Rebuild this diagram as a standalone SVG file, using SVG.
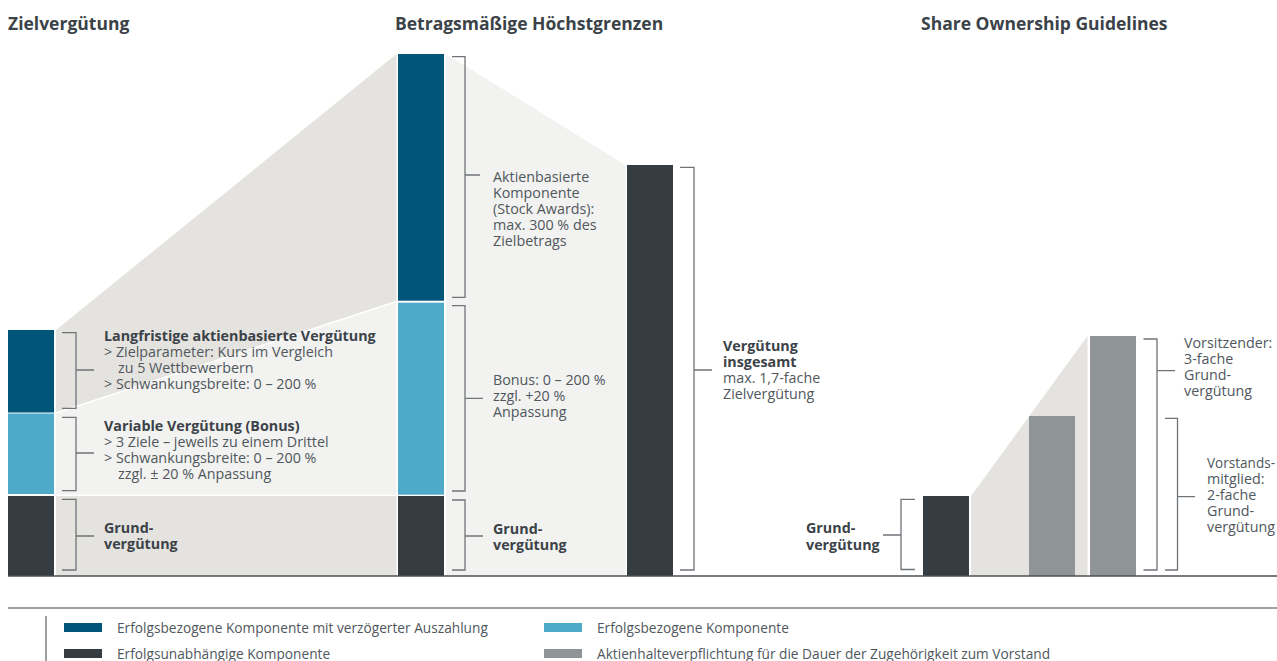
<svg xmlns="http://www.w3.org/2000/svg" width="1277" height="661" viewBox="0 0 1277 661">
<style>
  text { font-family: "Open Sans", "Noto Sans", sans-serif; fill: #50575d; font-size: 14.3px; }
  .t { font-size: 17.5px; font-weight: 700; fill: #3b4248; }
  .b { font-weight: 700; fill: #3b4248; }
  .br { fill: none; stroke: #6f7479; stroke-width: 1.3; }
  .lg { font-size: 13.7px; }
  .dblue { fill: #005578; }
  .lblue { fill: #4fa9c8; }
  .dark { fill: #353c42; }
  .grey { fill: #8f9496; }
  .bandD { fill: #e4e3df; }
  .bandL { fill: #f2f2f0; }
</style>

<!-- titles -->
<g id="titles">
  <text class="t" x="8" y="30">Zielvergütung</text>
  <text class="t" x="395" y="30">Betragsmäßige Höchstgrenzen</text>
  <text class="t" x="921" y="30">Share Ownership Guidelines</text>
</g>

<!-- connecting bands -->
<g id="connectors">
  <polygon class="bandD" points="56,330 396.5,54 396.5,301.5 56,413"/>
  <polygon class="bandL" points="56,413 396.5,301.5 396.5,494.5 56,494.5"/>
  <polygon class="bandD" points="56,496 396.5,496 396.5,576 56,576"/>
  <line x1="56" y1="413" x2="396.5" y2="301.5" stroke="#ffffff" stroke-width="1.5"/>
  <polygon class="bandL" points="446,54 625.5,165 625.5,576 446,576"/>
  <polygon class="bandD" points="971,496 1087.5,336 1087.5,576 971,576"/>
</g>

<!-- column 1: target remuneration -->
<g id="col-target">
  <rect class="dblue" x="8" y="330" width="46" height="82.5"/>
  <rect class="lblue" x="8" y="413.5" width="46" height="80.5"/>
  <rect class="dark" x="8" y="496" width="46" height="80"/>
</g>

<!-- column 2: caps -->
<g id="col-caps">
  <rect class="dblue" x="398" y="54" width="46" height="246.7"/>
  <rect class="lblue" x="398" y="302.7" width="46" height="192"/>
  <rect class="dark" x="398" y="496" width="46" height="80"/>
</g>

<g id="col-total">
  <rect class="dark" x="627" y="165" width="46" height="411"/>
</g>

<!-- column 3: share ownership -->
<g id="col-sog-base">
  <rect class="dark" x="923" y="496" width="46" height="80"/>
</g>
<g id="col-sog-member">
  <rect class="grey" x="1029" y="416" width="46" height="160"/>
</g>
<g id="col-sog-chair">
  <rect class="grey" x="1090" y="336" width="46" height="240"/>
</g>

<!-- baseline -->
<line x1="8" y1="576" x2="1277" y2="576" stroke="#4b5156" stroke-width="1.6"/>

<!-- brackets -->
<g id="brackets">
  <path class="br" d="M62,332.7 H76 V408.3 H62 M76,370 H94"/>
  <path class="br" d="M62,417.3 H76 V490.7 H62 M76,453 H94"/>
  <path class="br" d="M62,499.3 H76 V570 H62 M76,536 H94"/>
  <path class="br" d="M452,56.7 H465 V297.3 H452 M465,175 H480"/>
  <path class="br" d="M452,305.7 H465 V491 H452 M465,398.3 H483"/>
  <path class="br" d="M452,500 H465 V570 H452 M465,536 H483"/>
  <path class="br" d="M680,167.3 H694 V570 H680 M694,370 H712"/>
  <path class="br" d="M915,499.3 H901 V569.5 H915 M901,535 H883"/>
  <path class="br" d="M1143.5,339 H1157 V570 H1143.5 M1157,370.7 H1175"/>
  <path class="br" d="M1165,418.3 H1177.5 V570 H1165 M1177.5,496.7 H1195"/>
</g>

<!-- labels column 1 -->
<g id="label-lti">
  <text><tspan class="b" x="104" y="341">Langfristige aktienbasierte Vergütung</tspan><tspan x="104" y="357">&gt; Zielparameter: Kurs im Vergleich</tspan><tspan x="118" y="373">zu 5 Wettbewerbern</tspan><tspan x="104" y="389">&gt; Schwankungsbreite: 0 – 200 %</tspan></text>
</g>
<g id="label-bonus">
  <text><tspan class="b" x="104" y="431">Variable Vergütung (Bonus)</tspan><tspan x="104" y="447">&gt; 3 Ziele – jeweils zu einem Drittel</tspan><tspan x="104" y="463">&gt; Schwankungsbreite: 0 – 200 %</tspan><tspan x="118" y="479">zzgl. ± 20 % Anpassung</tspan></text>
</g>
<g id="label-base1">
  <text class="b"><tspan x="104" y="533">Grund-</tspan><tspan x="104" y="549">vergütung</tspan></text>
</g>

<!-- labels column 2 -->
<g id="label-stock">
  <text><tspan x="493" y="182">Aktienbasierte</tspan><tspan x="493" y="198">Komponente</tspan><tspan x="493" y="214">(Stock Awards):</tspan><tspan x="493" y="230">max. 300 % des</tspan><tspan x="493" y="246">Zielbetrags</tspan></text>
</g>
<g id="label-bonuscap">
  <text><tspan x="493" y="385">Bonus: 0 – 200 %</tspan><tspan x="493" y="401">zzgl. +20 %</tspan><tspan x="493" y="417">Anpassung</tspan></text>
</g>
<g id="label-base2">
  <text class="b"><tspan x="493" y="534">Grund-</tspan><tspan x="493" y="550">vergütung</tspan></text>
</g>
<g id="label-total">
  <text><tspan class="b" x="723" y="351">Vergütung</tspan><tspan class="b" x="723" y="367">insgesamt</tspan><tspan x="723" y="383">max. 1,7-fache</tspan><tspan x="723" y="399">Zielvergütung</tspan></text>
</g>

<!-- labels column 3 -->
<g id="label-base3">
  <text class="b"><tspan x="806" y="533">Grund-</tspan><tspan x="806" y="550">vergütung</tspan></text>
</g>
<g id="label-chair">
  <text><tspan x="1184" y="348">Vorsitzender:</tspan><tspan x="1184" y="364">3-fache</tspan><tspan x="1184" y="380">Grund-</tspan><tspan x="1184" y="396">vergütung</tspan></text>
</g>
<g id="label-member">
  <text><tspan x="1207" y="468" textLength="68" lengthAdjust="spacingAndGlyphs">Vorstands-</tspan><tspan x="1207" y="484">mitglied:</tspan><tspan x="1207" y="500">2-fache</tspan><tspan x="1207" y="516">Grund-</tspan><tspan x="1207" y="532">vergütung</tspan></text>
</g>

<!-- legend -->
<g id="legend">
  <line x1="8" y1="608" x2="1277" y2="608" stroke="#7a7f83" stroke-width="1.5"/>
  <line x1="46" y1="616" x2="46" y2="661" stroke="#3b4248" stroke-width="1"/>
  <rect class="dblue" x="64" y="623" width="38" height="9"/>
  <text class="lg" x="117" y="633">Erfolgsbezogene Komponente mit verzögerter Auszahlung</text>
  <rect class="dark" x="64" y="649" width="38" height="9"/>
  <text class="lg" x="117" y="659">Erfolgsunabhängige Komponente</text>
  <rect class="lblue" x="544" y="623" width="38" height="9"/>
  <text class="lg" x="597" y="633">Erfolgsbezogene Komponente</text>
  <rect class="grey" x="544" y="649" width="38" height="9"/>
  <text class="lg" x="597" y="659">Aktienhalteverpflichtung für die Dauer der Zugehörigkeit zum Vorstand</text>
</g>
</svg>
